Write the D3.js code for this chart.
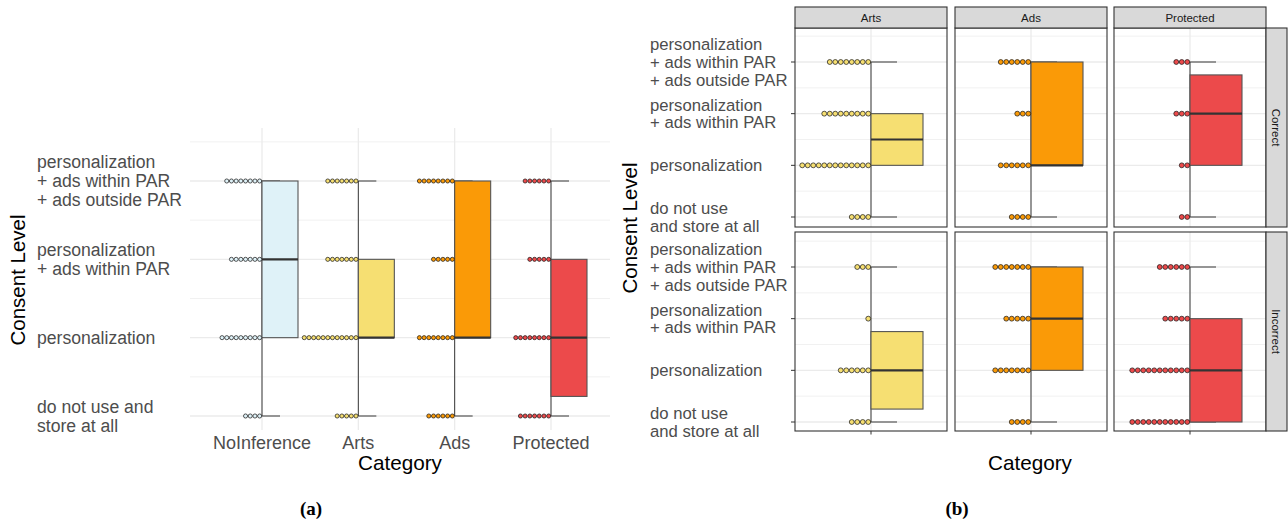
<!DOCTYPE html>
<html>
<head>
<meta charset="utf-8">
<script src="https://cdn.jsdelivr.net/npm/d3@7"></script>
<style>
  html, body { margin: 0; padding: 0; background: #fff; }
  svg { display: block; font-family: "Liberation Sans", Arial, sans-serif; }
</style>
</head>
<body>
<svg id="chart" width="1288" height="523"></svg>
<script>
// Consent levels, lowest (1) to highest (4)
const levelValues = [1, 2, 3, 4];
const levelLabelsA = [
  ["do not use and", "store at all"],
  ["personalization"],
  ["personalization", "+ ads within PAR"],
  ["personalization", "+ ads within PAR", "+ ads outside PAR"]
];
const levelLabelsB = [
  ["do not use", "and store at all"],
  ["personalization"],
  ["personalization", "+ ads within PAR"],
  ["personalization", "+ ads within PAR", "+ ads outside PAR"]
];

// (a) categories and number of responses per consent level (levels 1..4)
const categoriesA = ["NoInference", "Arts", "Ads", "Protected"];
const noInferenceCounts = [4, 9, 7, 8];
const artsCounts = [5, 12, 7, 7];
const adsCounts = [6, 8, 5, 8];
const protectedCounts = [7, 8, 5, 6];

// (b) facets: columns are categories, rows are inference correctness
const facetCategories = ["Arts", "Ads", "Protected"];
const facetRows = ["Correct", "Incorrect"];
const artsCorrectCounts = [4, 13, 9, 8];
const adsCorrectCounts = [4, 6, 3, 6];
const protectedCorrectCounts = [2, 2, 3, 3];
const artsIncorrectCounts = [4, 6, 1, 3];
const adsIncorrectCounts = [4, 7, 5, 7];
const protectedIncorrectCounts = [11, 11, 5, 6];

const categoryColors = ["#DFF2F8", "#F6DF72", "#FA9A07", "#EC4A4B"];

const svg = d3.select("#chart");
const gridColor = "#ebebeb";
const tickTextColor = "#4d4d4d";

// Expand per-level counts into individual responses
function expand(counts) {
  const out = [];
  counts.forEach((n, i) => { for (let k = 0; k < n; k++) out.push(levelValues[i]); });
  return out;
}

function boxStats(counts) {
  const v = expand(counts).sort(d3.ascending);
  const q1 = d3.quantile(v, 0.25), med = d3.quantile(v, 0.5), q3 = d3.quantile(v, 0.75);
  const iqr = q3 - q1;
  const lo = d3.min(v.filter(d => d >= q1 - 1.5 * iqr));
  const hi = d3.max(v.filter(d => d <= q3 + 1.5 * iqr));
  return { q1, med, q3, lo, hi };
}

// Half box plot: box to the right of the center, dots stacked to the left
function halfBox(g, cx, y, counts, fill, boxW, dotD) {
  const s = boxStats(counts);
  // whisker
  g.append("line").attr("x1", cx).attr("x2", cx)
    .attr("y1", y(s.lo)).attr("y2", y(s.hi))
    .attr("stroke", "#3a3a3a").attr("stroke-width", 1);
  [s.lo, s.hi].forEach(v => {
    g.append("line").attr("x1", cx).attr("x2", cx + boxW / 2)
      .attr("y1", y(v)).attr("y2", y(v))
      .attr("stroke", "#3a3a3a").attr("stroke-width", 1);
  });
  // box
  g.append("rect").attr("x", cx).attr("y", y(s.q3))
    .attr("width", boxW).attr("height", y(s.q1) - y(s.q3))
    .attr("fill", fill).attr("stroke", "#555").attr("stroke-width", 1.1);
  g.append("line").attr("x1", cx).attr("x2", cx + boxW)
    .attr("y1", y(s.med)).attr("y2", y(s.med))
    .attr("stroke", "#333").attr("stroke-width", 2.2);
  // dots
  const r = dotD / 2;
  counts.forEach((n, i) => {
    g.selectAll(null).data(d3.range(n)).enter().append("circle")
      .attr("cx", k => cx - r - k * dotD)
      .attr("cy", y(levelValues[i]))
      .attr("r", r - 0.3)
      .attr("fill", fill).attr("stroke", "#111").attr("stroke-width", 0.7);
  });
}

function multiLineLabel(g, x, yc, lines, size, lh, color) {
  const t = g.append("text").attr("x", x).attr("font-size", size).attr("fill", color);
  const top = yc - (lines.length - 1) * lh / 2;
  lines.forEach((ln, i) => {
    t.append("tspan").attr("x", x).attr("y", top + i * lh).attr("dy", "0.35em").text(ln);
  });
}

// ---------------- (a) ----------------
{
  const g = svg.append("g");
  const px0 = 190, px1 = 610, pyTop = 128, pyBot = 430;
  const x = d3.scalePoint().domain(categoriesA).range([262, 551]);
  const y = d3.scaleLinear().domain([1, 4]).range([416, 181]);

  // grid
  [1.5, 2.5, 3.5, 4.5].forEach(v => {
    g.append("line").attr("x1", px0).attr("x2", px1).attr("y1", y(v)).attr("y2", y(v))
      .attr("stroke", gridColor).attr("stroke-width", 0.7);
  });
  levelValues.forEach(v => {
    g.append("line").attr("x1", px0).attr("x2", px1).attr("y1", y(v)).attr("y2", y(v))
      .attr("stroke", gridColor).attr("stroke-width", 1.3);
  });
  categoriesA.forEach(c => {
    g.append("line").attr("x1", x(c)).attr("x2", x(c)).attr("y1", pyTop).attr("y2", pyBot)
      .attr("stroke", gridColor).attr("stroke-width", 1.3);
  });

  const countsA = [noInferenceCounts, artsCounts, adsCounts, protectedCounts];
  categoriesA.forEach((c, i) => halfBox(g, x(c), y, countsA[i], categoryColors[i], 36, 4.7));

  // axes text
  levelValues.forEach((v, i) => multiLineLabel(g, 37, y(v), levelLabelsA[i], 17.6, 19, tickTextColor));
  categoriesA.forEach(c => {
    g.append("text").attr("x", x(c)).attr("y", 443).attr("dy", "0.35em")
      .attr("text-anchor", "middle").attr("font-size", 18).attr("fill", tickTextColor).text(c);
  });
  g.append("text").attr("transform", "translate(25,280) rotate(-90)")
    .attr("text-anchor", "middle").attr("font-size", 20.5).attr("fill", "#000").text("Consent Level");
  g.append("text").attr("x", 400).attr("y", 470)
    .attr("text-anchor", "middle").attr("font-size", 20.7).attr("fill", "#000").text("Category");
}

// ---------------- (b) ----------------
{
  const g = svg.append("g");
  const colLeft = [795, 955, 1114], panelW = 152;
  const rowTop = [28, 232], panelH = 199;
  const rowScales = [
    d3.scaleLinear().domain([1, 4]).range([217, 62]),
    d3.scaleLinear().domain([1, 4]).range([422, 267])
  ];
  const facetCounts = [
    [artsCorrectCounts, adsCorrectCounts, protectedCorrectCounts],
    [artsIncorrectCounts, adsIncorrectCounts, protectedIncorrectCounts]
  ];
  const colColors = categoryColors.slice(1);

  facetRows.forEach((row, ri) => {
    const y = rowScales[ri];
    facetCategories.forEach((cat, ci) => {
      const x0 = colLeft[ci], cx = x0 + panelW / 2;
      const pg = g.append("g");
      pg.append("rect").attr("x", x0).attr("y", rowTop[ri]).attr("width", panelW).attr("height", panelH)
        .attr("fill", "#fff");
      [1.5, 2.5, 3.5, 4.5].forEach(v => {
        pg.append("line").attr("x1", x0).attr("x2", x0 + panelW).attr("y1", y(v)).attr("y2", y(v))
          .attr("stroke", gridColor).attr("stroke-width", 0.7);
      });
      levelValues.forEach(v => {
        pg.append("line").attr("x1", x0).attr("x2", x0 + panelW).attr("y1", y(v)).attr("y2", y(v))
          .attr("stroke", gridColor).attr("stroke-width", 1.3);
      });
      pg.append("line").attr("x1", cx).attr("x2", cx).attr("y1", rowTop[ri]).attr("y2", rowTop[ri] + panelH)
        .attr("stroke", gridColor).attr("stroke-width", 1.3);

      halfBox(pg, cx, y, facetCounts[ri][ci], colColors[ci], 52, 5.5);

      pg.append("rect").attr("x", x0).attr("y", rowTop[ri]).attr("width", panelW).attr("height", panelH)
        .attr("fill", "none").attr("stroke", "#333").attr("stroke-width", 1.1);

      if (ri === 1) {
        g.append("line").attr("x1", cx).attr("x2", cx)
          .attr("y1", rowTop[ri] + panelH).attr("y2", rowTop[ri] + panelH + 3.5)
          .attr("stroke", "#333").attr("stroke-width", 1);
      }
      if (ri === 0) {
        g.append("rect").attr("x", x0).attr("y", 7).attr("width", panelW).attr("height", 21)
          .attr("fill", "#d9d9d9").attr("stroke", "#333").attr("stroke-width", 1.1);
        g.append("text").attr("x", cx).attr("y", 17.5).attr("dy", "0.35em")
          .attr("text-anchor", "middle").attr("font-size", 11.5).attr("fill", "#1a1a1a").text(cat);
      }
    });

    // row strip
    g.append("rect").attr("x", 1266).attr("y", rowTop[ri]).attr("width", 21).attr("height", panelH)
      .attr("fill", "#d9d9d9").attr("stroke", "#333").attr("stroke-width", 1.1);
    g.append("text").attr("transform", `translate(1276.5,${rowTop[ri] + panelH / 2}) rotate(90)`)
      .attr("dy", "0.35em").attr("text-anchor", "middle").attr("font-size", 11.5)
      .attr("fill", "#1a1a1a").text(row);

    // y ticks and labels
    levelValues.forEach((v, i) => {
      g.append("line").attr("x1", 791).attr("x2", 795).attr("y1", y(v)).attr("y2", y(v))
        .attr("stroke", "#333").attr("stroke-width", 1);
      multiLineLabel(g, 650, y(v), levelLabelsB[i], 16.7, 17.7, tickTextColor);
    });
  });

  g.append("text").attr("transform", "translate(637,228) rotate(-90)")
    .attr("text-anchor", "middle").attr("font-size", 20.5).attr("fill", "#000").text("Consent Level");
  g.append("text").attr("x", 1030).attr("y", 470)
    .attr("text-anchor", "middle").attr("font-size", 20.7).attr("fill", "#000").text("Category");
}

// sub-figure captions
svg.append("text").attr("x", 311).attr("y", 515).attr("text-anchor", "middle")
  .attr("font-family", "'Liberation Serif', 'DejaVu Serif', serif").attr("font-weight", "bold")
  .attr("font-size", 19).attr("fill", "#000").text("(a)");
svg.append("text").attr("x", 957).attr("y", 515).attr("text-anchor", "middle")
  .attr("font-family", "'Liberation Serif', 'DejaVu Serif', serif").attr("font-weight", "bold")
  .attr("font-size", 19).attr("fill", "#000").text("(b)");
</script>
</body>
</html>
